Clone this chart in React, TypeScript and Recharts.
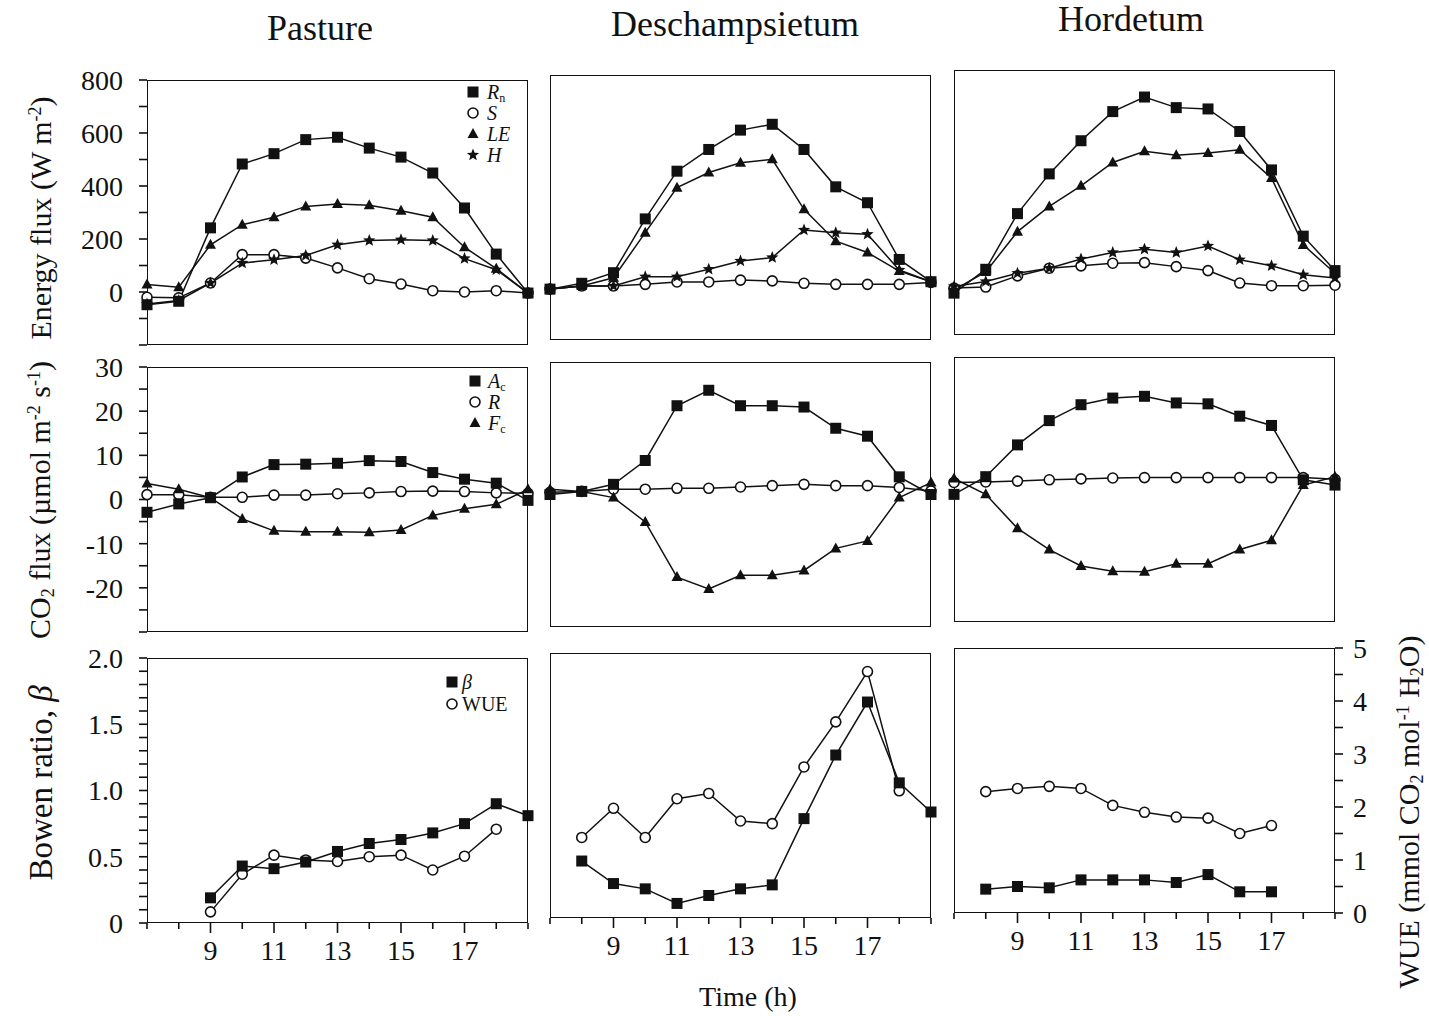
import { Line, LineChart, XAxis, YAxis } from 'recharts'

const SERIF = '"Liberation Serif", "DejaVu Serif", serif'

// hours of day, shared by every panel
const hours = [7, 8, 9, 10, 11, 12, 13, 14, 15, 16, 17, 18, 19]
const hourLabels = [9, 11, 13, 15, 17]

// axis ticks
const energyTicks = [-200, -100, 0, 100, 200, 300, 400, 500, 600, 700, 800]
const energyLabels = [0, 200, 400, 600, 800]
const co2Ticks = [-30, -25, -20, -15, -10, -5, 0, 5, 10, 15, 20, 25, 30]
const co2Labels = [-20, -10, 0, 10, 20, 30]
const bowenTicks = [0, 0.1, 0.2, 0.3, 0.4, 0.5, 0.6, 0.7, 0.8, 0.9, 1.0, 1.1, 1.2, 1.3, 1.4, 1.5, 1.6, 1.7, 1.8, 1.9, 2.0]
const bowenLabels = ['0', '0.5', '1.0', '1.5', '2.0']
const wueTicks = [0, 0.5, 1, 1.5, 2, 2.5, 3, 3.5, 4, 4.5, 5]
const wueLabels = [0, 1, 2, 3, 4, 5]

// energy flux (W m-2)
const pastureRn = [-48, -35, 242, 483, 522, 575, 584, 543, 509, 449, 317, 143, -4]
const pastureS = [-20, -22, 34, 141, 141, 128, 91, 50, 30, 5, 0, 5, -4]
const pastureLE = [28, 18, 178, 254, 282, 323, 332, 327, 307, 282, 169, 88, -4]
const pastureH = [-45, -32, 34, 109, 122, 138, 178, 194, 197, 194, 126, 84, -4]

const deschRn = [-8, 14, 54, 257, 437, 519, 592, 614, 519, 378, 318, 104, 20]
const deschS = [-8, 4, 4, 10, 19, 19, 26, 23, 14, 10, 10, 10, 17]
const deschLE = [-8, 4, 35, 205, 375, 432, 469, 482, 293, 173, 130, 60, 20]
const deschH = [-8, 4, 4, 39, 39, 67, 98, 111, 215, 205, 199, 64, 20]

const hordRn = [-42, 48, 258, 408, 533, 643, 698, 658, 653, 568, 423, 173, 43]
const hordS = [-23, -19, 23, 52, 61, 71, 73, 58, 43, -4, -14, -14, -12]
const hordLE = [-30, 38, 190, 285, 363, 451, 493, 478, 487, 499, 392, 140, 33]
const hordH = [-17, 2, 33, 52, 87, 111, 124, 111, 136, 84, 61, 27, 15]

// CO2 flux (umol m-2 s-1)
const pastureAc = [-2.9, -1.0, 0.4, 5.1, 7.9, 8.0, 8.2, 8.8, 8.6, 6.1, 4.6, 3.7, -0.2]
const pastureR = [1.1, 1.1, 0.5, 0.5, 1.0, 1.0, 1.3, 1.5, 1.8, 1.9, 1.8, 1.5, 1.4]
const pastureFc = [3.6, 2.3, 0.4, -4.4, -7.1, -7.3, -7.3, -7.4, -6.9, -3.6, -2.1, -1.1, 2.3]

const deschAc = [0.0, 0.7, 2.3, 7.7, 20.1, 23.6, 20.1, 20.1, 19.8, 15.0, 13.2, 4.0, 0.0]
const deschR = [0.5, 0.7, 1.2, 1.2, 1.4, 1.4, 1.7, 2.0, 2.3, 2.0, 2.0, 1.6, 0.8]
const deschFc = [1.2, 0.7, -0.7, -6.2, -18.7, -21.4, -18.3, -18.3, -17.2, -12.2, -10.5, -0.7, 2.7]

const hordAc = [-1.1, 2.9, 10.1, 15.6, 19.2, 20.7, 21.1, 19.6, 19.4, 16.6, 14.5, 2.2, 1.0]
const hordR = [1.6, 1.7, 1.9, 2.2, 2.4, 2.6, 2.7, 2.7, 2.7, 2.7, 2.7, 2.7, 2.3]
const hordFc = [2.5, -1.1, -8.8, -13.6, -17.3, -18.5, -18.6, -16.8, -16.8, -13.6, -11.5, 1.0, 2.9]

// Bowen ratio and WUE (mmol CO2 mol-1 H2O)
const pastureBeta = [null, null, 0.19, 0.43, 0.41, 0.46, 0.54, 0.6, 0.63, 0.68, 0.75, 0.9, 0.81]
const pastureWue = [null, null, 0.21, 0.92, 1.28, 1.19, 1.16, 1.25, 1.28, 1.0, 1.26, 1.77, null]
const deschBeta = [null, 0.43, 0.26, 0.22, 0.11, 0.17, 0.22, 0.25, 0.75, 1.23, 1.63, 1.02, 0.8]
const deschWue = [null, 1.52, 2.07, 1.52, 2.25, 2.35, 1.83, 1.78, 2.85, 3.7, 4.65, 2.4, null]
const hordBeta = [null, 0.18, 0.2, 0.19, 0.25, 0.25, 0.25, 0.23, 0.29, 0.16, 0.16, null, null]
const hordWue = [null, 2.29, 2.35, 2.39, 2.35, 2.03, 1.9, 1.81, 1.79, 1.5, 1.65, null, null]

type Val = number | null
type Shape = 'square' | 'circle' | 'triangle' | 'star'

function build(cols: Record<string, Val[]>) {
  return hours.map((h, i) => {
    const row: Record<string, Val> = { h }
    for (const k of Object.keys(cols)) row[k] = cols[k][i]
    return row
  })
}

function starPath(cx: number, cy: number, R: number, r: number) {
  let d = ''
  for (let i = 0; i < 10; i++) {
    const rad = i % 2 === 0 ? R : r
    const a = -Math.PI / 2 + (i * Math.PI) / 5
    d += `${i === 0 ? 'M' : 'L'}${cx + rad * Math.cos(a)},${cy + rad * Math.sin(a)}`
  }
  return d + 'Z'
}

function drawShape(shape: Shape, cx: number, cy: number, key?: string | number) {
  if (shape === 'square')
    return <rect key={key} x={cx - 5.5} y={cy - 5.5} width={11} height={11} fill='#111' />
  if (shape === 'circle')
    return <circle key={key} cx={cx} cy={cy} r={5} fill='#fff' stroke='#111' strokeWidth={1.6} />
  if (shape === 'triangle')
    return (
      <path
        key={key}
        d={`M${cx},${cy - 6} L${cx + 5.5},${cy + 4} L${cx - 5.5},${cy + 4} Z`}
        fill='#111'
      />
    )
  return <path key={key} d={starPath(cx, cy, 6.5, 2.8)} fill='#111' />
}

const dotOf = (shape: Shape) => (p: any) => {
  if (p.cx == null || p.cy == null || p.value == null) return <g key={p.index} />
  return drawShape(shape, p.cx, p.cy, p.index)
}

type Series = { key: string; shape: Shape; axis?: 'l' | 'r' }

const PW = 381
const PH = 265
const ML = 80
const MR = 70
const MT = 20
const XH = 50

const tickFont = { fill: '#111', fontSize: 28, fontFamily: SERIF }

function HourTick(props: any) {
  const { x, y, payload } = props
  const major = hourLabels.includes(payload.value)
  return (
    <g>
      <line x1={x} y1={y} x2={x} y2={y + (major ? 10 : 6)} stroke='#111' strokeWidth={1.6} />
      {major && (
        <text x={x} y={y + 37} textAnchor='middle' {...tickFont}>
          {payload.value}
        </text>
      )}
    </g>
  )
}

type PanelProps = {
  left: number
  top: number
  data: Record<string, Val>[]
  series: Series[]
  domain: [number, number]
  ticks: number[]
  fmt?: (v: number) => string
  showY: boolean
  showX: boolean
  rightDomain?: [number, number]
  showRight?: boolean
}

function Panel({ left, top, data, series, domain, ticks, fmt, showY, showX, rightDomain, showRight }: PanelProps) {
  const axisStroke = { stroke: '#111', strokeWidth: 1.6 }
  return (
    <div style={{ position: 'absolute', left: left - ML, top: top - MT }}>
      <div
        style={{
          position: 'absolute',
          left: ML,
          top: MT,
          width: PW,
          height: PH,
          border: '1.6px solid #111',
          boxSizing: 'border-box',
        }}
      />
      <LineChart
        width={PW + ML + MR}
        height={PH + MT + XH}
        data={data}
        margin={{ top: MT, right: 0, left: 0, bottom: 0 }}
      >
        <XAxis
          dataKey='h'
          type='number'
          domain={[7, 19]}
          ticks={hours}
          interval={0}
          height={XH}
          axisLine={false}
          tickLine={false}
          tickSize={0}
          tickMargin={0}
          tick={showX ? <HourTick /> : false}
        />
        <YAxis
          yAxisId='l'
          width={ML}
          domain={domain}
          ticks={ticks}
          interval={0}
          axisLine={false}
          tickLine={showY ? axisStroke : false}
          tickSize={8}
          tickMargin={16}
          tick={showY ? tickFont : false}
          tickFormatter={fmt}
        />
        <YAxis
          yAxisId='r'
          orientation='right'
          width={MR}
          domain={rightDomain ?? [0, 1]}
          ticks={showRight ? wueTicks : undefined}
          interval={0}
          axisLine={false}
          tickLine={showRight ? axisStroke : false}
          tickSize={8}
          tickMargin={10}
          tick={showRight ? tickFont : false}
          tickFormatter={(v: number) => (wueLabels.includes(v) ? String(v) : '')}
        />
        {series.map((s) => (
          <Line
            key={s.key}
            yAxisId={s.axis ?? 'l'}
            dataKey={s.key}
            stroke='#111'
            strokeWidth={1.5}
            dot={dotOf(s.shape)}
            activeDot={false}
            isAnimationActive={false}
          />
        ))}
      </LineChart>
    </div>
  )
}

type LegendItem = { shape: Shape; label: React.ReactNode }

function InLegend({ x, y, textX, rows }: { x: number; y: number[]; textX: number; rows: LegendItem[] }) {
  return (
    <>
      {rows.map((r, i) => (
        <div key={i}>
          <svg
            width={16}
            height={16}
            style={{ position: 'absolute', left: x - 8, top: y[i] - 8 }}
          >
            {drawShape(r.shape, 8, 8)}
          </svg>
          <div
            style={{
              position: 'absolute',
              left: textX,
              top: y[i] - 10,
              height: 20,
              lineHeight: '20px',
              fontSize: 20,
              fontFamily: SERIF,
              whiteSpace: 'nowrap',
              color: '#111',
            }}
          >
            {r.label}
          </div>
        </div>
      ))}
    </>
  )
}

function VLabel({ x, y, size, children }: { x: number; y: number; size: number; children: React.ReactNode }) {
  return (
    <div
      style={{
        position: 'absolute',
        left: x,
        top: y,
        transform: 'translate(-50%, -50%) rotate(-90deg)',
        whiteSpace: 'nowrap',
        fontSize: size,
        fontFamily: SERIF,
        color: '#111',
        lineHeight: 1,
      }}
    >
      {children}
    </div>
  )
}

const sup = (t: string) => <sup style={{ fontSize: '0.6em', verticalAlign: '0.55em' }}>{t}</sup>
const sub = (t: string) => <sub style={{ fontSize: '0.6em', verticalAlign: '-0.25em' }}>{t}</sub>

const colLeft = [147, 550, 954]
const colShift = [0, -5, -10]
const rowTop = [80, 367, 658]
const titles = ['Pasture', 'Deschampsietum', 'Hordetum']
const titleX = [320, 735, 1131]
const titleY = [28, 24, 19]

const energyData = [
  build({ rn: pastureRn, s: pastureS, le: pastureLE, hh: pastureH }),
  build({ rn: deschRn, s: deschS, le: deschLE, hh: deschH }),
  build({ rn: hordRn, s: hordS, le: hordLE, hh: hordH }),
]
const co2Data = [
  build({ ac: pastureAc, r: pastureR, fc: pastureFc }),
  build({ ac: deschAc, r: deschR, fc: deschFc }),
  build({ ac: hordAc, r: hordR, fc: hordFc }),
]
const bowenData = [
  build({ beta: pastureBeta, wue: pastureWue }),
  build({ beta: deschBeta, wue: deschWue }),
  build({ beta: hordBeta, wue: hordWue }),
]

const energySeries: Series[] = [
  { key: 's', shape: 'circle' },
  { key: 'hh', shape: 'star' },
  { key: 'le', shape: 'triangle' },
  { key: 'rn', shape: 'square' },
]
const co2Series: Series[] = [
  { key: 'r', shape: 'circle' },
  { key: 'fc', shape: 'triangle' },
  { key: 'ac', shape: 'square' },
]
const bowenSeries: Series[] = [
  { key: 'wue', shape: 'circle', axis: 'r' },
  { key: 'beta', shape: 'square' },
]

const energyFmt = (v: number) => (energyLabels.includes(v) ? String(v) : '')
const co2Fmt = (v: number) => (co2Labels.includes(v) ? String(v) : '')
const bowenFmt = (v: number) => {
  const s = v === 0 ? '0' : v.toFixed(1)
  return bowenLabels.includes(s) ? s : ''
}

export default function App() {
  return (
    <div
      style={{
        position: 'absolute',
        left: 0,
        top: 0,
        width: 1429,
        height: 1016,
        background: '#fff',
        overflow: 'hidden',
      }}
    >
      {titles.map((t, c) => (
        <div
          key={t}
          style={{
            position: 'absolute',
            left: titleX[c],
            top: titleY[c],
            transform: 'translate(-50%, -50%)',
            fontSize: 36,
            lineHeight: 1,
            fontFamily: SERIF,
            color: '#111',
            whiteSpace: 'nowrap',
          }}
        >
          {t}
        </div>
      ))}

      {[0, 1, 2].map((c) => (
        <div key={c}>
          <Panel
            left={colLeft[c]}
            top={rowTop[0] + colShift[c]}
            data={energyData[c]}
            series={energySeries}
            domain={[-200, 800]}
            ticks={energyTicks}
            fmt={energyFmt}
            showY={c === 0}
            showX={false}
          />
          <Panel
            left={colLeft[c]}
            top={rowTop[1] + colShift[c]}
            data={co2Data[c]}
            series={co2Series}
            domain={[-30, 30]}
            ticks={co2Ticks}
            fmt={co2Fmt}
            showY={c === 0}
            showX={false}
          />
          <Panel
            left={colLeft[c]}
            top={rowTop[2] + colShift[c]}
            data={bowenData[c]}
            series={bowenSeries}
            domain={[0, 2]}
            ticks={bowenTicks}
            fmt={bowenFmt}
            showY={c === 0}
            showX={true}
            rightDomain={[0, 5]}
            showRight={c === 2}
          />
        </div>
      ))}

      <InLegend
        x={473}
        textX={487}
        y={[92, 113, 134, 155]}
        rows={[
          { shape: 'square', label: <><i>R</i>{sub('n')}</> },
          { shape: 'circle', label: <i>S</i> },
          { shape: 'triangle', label: <i>LE</i> },
          { shape: 'star', label: <i>H</i> },
        ]}
      />
      <InLegend
        x={475}
        textX={488}
        y={[381, 402, 423]}
        rows={[
          { shape: 'square', label: <><i>A</i>{sub('c')}</> },
          { shape: 'circle', label: <i>R</i> },
          { shape: 'triangle', label: <><i>F</i>{sub('c')}</> },
        ]}
      />
      <InLegend
        x={452}
        textX={462}
        y={[682, 704]}
        rows={[
          { shape: 'square', label: <i>β</i> },
          { shape: 'circle', label: 'WUE' },
        ]}
      />

      <VLabel x={41} y={218} size={30}>
        Energy flux (W m{sup('-2')})
      </VLabel>
      <VLabel x={41} y={500} size={30}>
        CO{sub('2')} flux (µmol m{sup('-2')} s{sup('-1')})
      </VLabel>
      <VLabel x={41} y={783} size={33}>
        Bowen ratio, <i>β</i>
      </VLabel>
      <VLabel x={1410} y={812} size={30}>
        WUE (mmol CO{sub('2')} mol{sup('-1')} H{sub('2')}O)
      </VLabel>
      <div
        style={{
          position: 'absolute',
          left: 748,
          top: 997,
          transform: 'translate(-50%, -50%)',
          fontSize: 28,
          lineHeight: 1,
          fontFamily: SERIF,
          color: '#111',
          whiteSpace: 'nowrap',
        }}
      >
        Time (h)
      </div>
    </div>
  )
}
